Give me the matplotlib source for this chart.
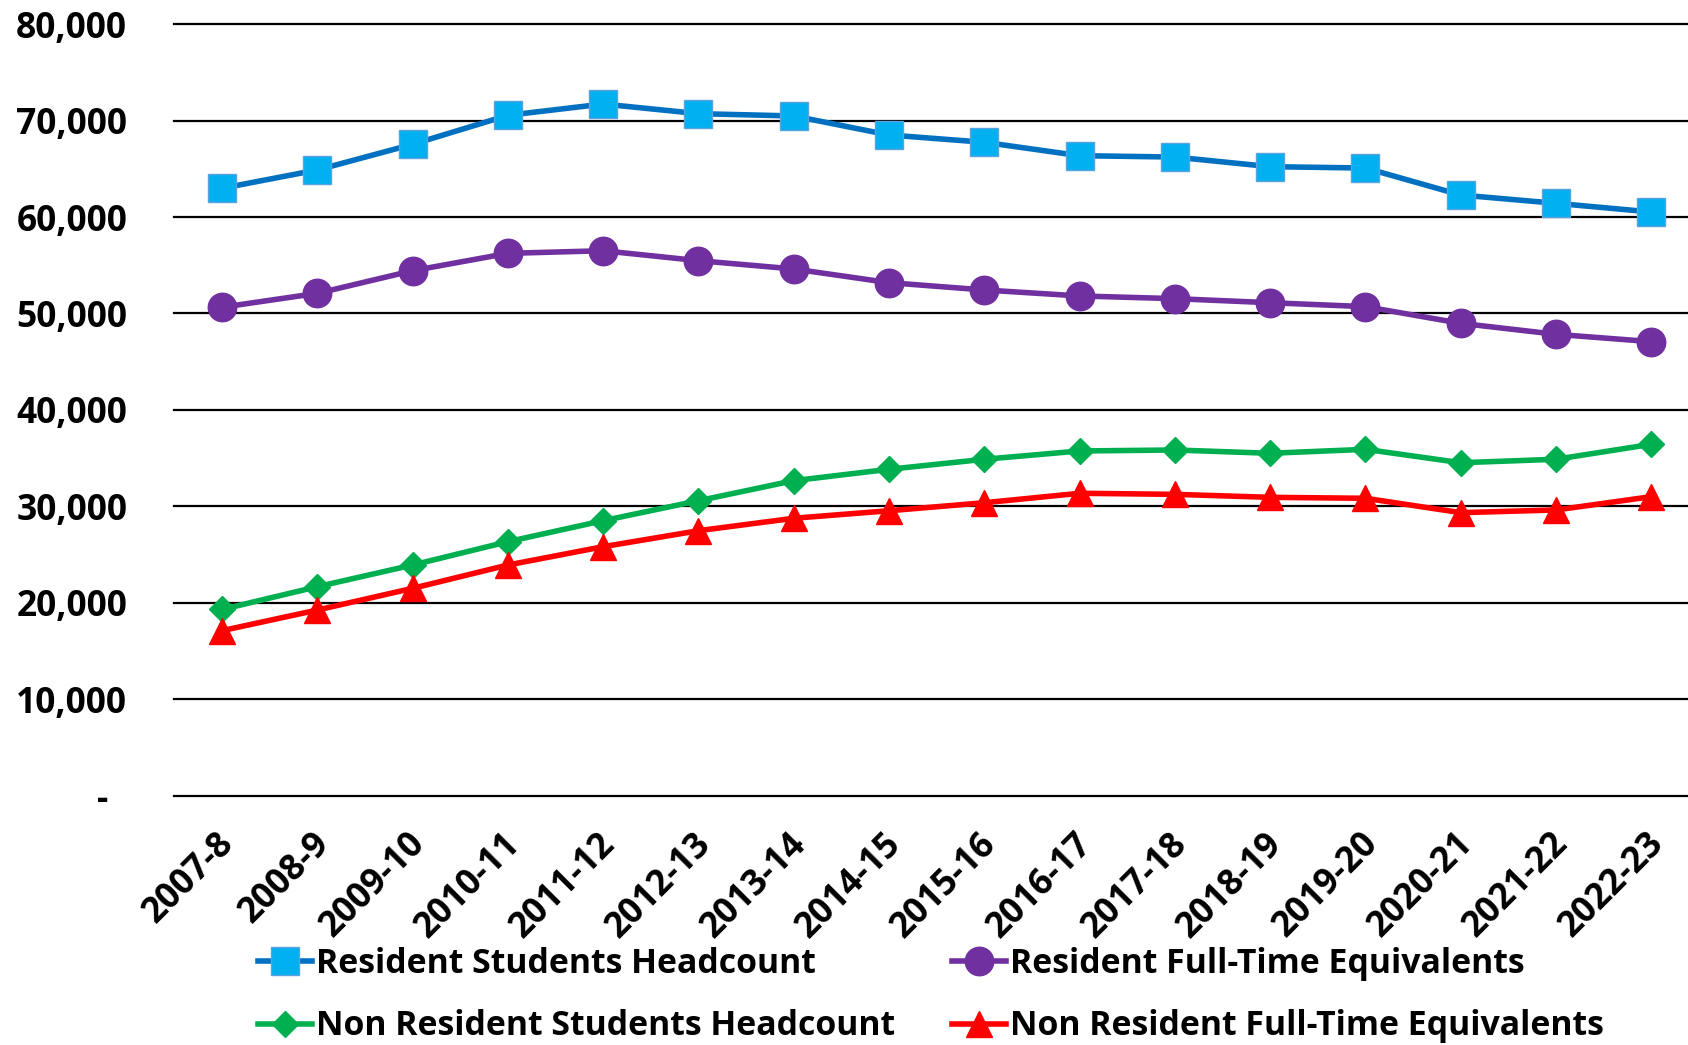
import matplotlib
matplotlib.use("Agg")
import matplotlib.pyplot as plt
from matplotlib.transforms import ScaledTranslation

years = ["2007-8", "2008-9", "2009-10", "2010-11", "2011-12", "2012-13", "2013-14",
         "2014-15", "2015-16", "2016-17", "2017-18", "2018-19", "2019-20", "2020-21",
         "2021-22", "2022-23"]

resident_headcount = [62990, 64890, 67550, 70560, 71730, 70730, 70490, 68520, 67760,
                      66370, 66230, 65230, 65090, 62290, 61430, 60530]
resident_fte = [50650, 52090, 54440, 56240, 56510, 55480, 54620, 53200, 52440,
                51820, 51540, 51120, 50710, 48980, 47840, 47080]
nonres_headcount = [19300, 21660, 23910, 26330, 28510, 30580, 32660, 33840, 34880,
                    35740, 35840, 35500, 35910, 34520, 34880, 36430]
nonres_fte = [17100, 19240, 21490, 23910, 25810, 27470, 28760, 29540, 30370,
              31350, 31240, 30930, 30830, 29340, 29620, 31000]

y_ticks = [0, 10000, 20000, 30000, 40000, 50000, 60000, 70000, 80000]
y_tick_labels = ["-", "10,000", "20,000", "30,000", "40,000", "50,000", "60,000",
                 "70,000", "80,000"]

series_labels = ["Resident Students Headcount", "Resident Full-Time Equivalents",
                 "Non Resident Students Headcount", "Non Resident Full-Time Equivalents"]

FONT = ["Open Sans", "DejaVu Sans"]
plt.rcParams["font.family"] = FONT
plt.rcParams["font.weight"] = "bold"
FS = 25.5
LFS = 24.4

W, H = 1688, 1045
fig = plt.figure(figsize=(W / 100, H / 100), dpi=100)
ax = fig.add_axes([174.4 / W, 1 - 795.5 / H, (1699 - 174.4) / W, (795.5 - 24.3) / H])

x = list(range(len(years)))
LW = 4.0
h1, = ax.plot(x, resident_headcount, color="#0070C0", lw=LW, marker="s", ms=20,
              markerfacecolor="#00B0F0", markeredgecolor="#5BA3DC", markeredgewidth=1,
              label=series_labels[0], zorder=5)
h2, = ax.plot(x, resident_fte, color="#7030A0", lw=LW, marker="o", ms=20.5,
              markerfacecolor="#7030A0", markeredgecolor="#7030A0",
              label=series_labels[1], zorder=5)
h3, = ax.plot(x, nonres_headcount, color="#00B050", lw=LW, marker="D", ms=13.5,
              markerfacecolor="#00B050", markeredgecolor="#00B050",
              label=series_labels[2], zorder=5)
h4, = ax.plot(x, nonres_fte, color="#FF0000", lw=LW, marker="^", ms=19,
              markerfacecolor="#FF0000", markeredgecolor="#FF0000",
              label=series_labels[3], zorder=5)

ax.set_xlim(-0.5, len(years) - 0.5)
ax.set_ylim(0, 80000)
ax.set_yticks(y_ticks)
ax.set_yticklabels(y_tick_labels, fontsize=FS, fontweight="bold")
ax.set_xticks(x)
ax.set_xticklabels(years, fontsize=FS, fontweight="bold", rotation=45,
                   ha="right", va="center", rotation_mode="anchor")
ax.tick_params(axis="y", length=0, pad=34)
ax.tick_params(axis="x", length=0, pad=31)
for lbl in ax.get_xticklabels():
    lbl.set_transform(lbl.get_transform() + ScaledTranslation(7 / 100, 0, fig.dpi_scale_trans))
zl = ax.get_yticklabels()[0]
zl.set_transform(zl.get_transform() + ScaledTranslation(-19 / 100, 0, fig.dpi_scale_trans))

ax.grid(axis="y", color="black", lw=1.6)
ax.grid(axis="x", visible=False)
for gl in ax.get_ygridlines():
    gl.set_clip_on(False)
for s in ax.spines.values():
    s.set_visible(False)
ax.set_facecolor("white")

fig.legend(handles=[h1, h3, h2, h4], loc="upper left",
           bbox_to_anchor=(258 / W, 1 - 947 / H), ncol=2, frameon=False,
           prop={"weight": "bold", "size": LFS},
           handlelength=1.6, handletextpad=0.12, columnspacing=1.67,
           labelspacing=0.84, borderpad=0, borderaxespad=0)

fig.savefig("out.png", dpi=100, facecolor="white")
